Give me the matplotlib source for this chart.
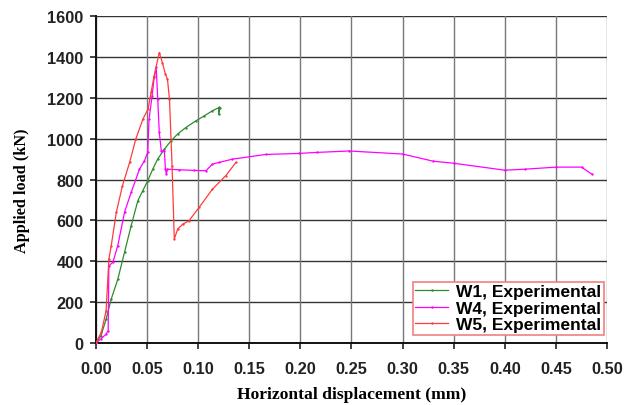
import matplotlib
matplotlib.use("Agg")
import matplotlib.pyplot as plt
from matplotlib.font_manager import FontProperties

# Wall load-displacement curves (horizontal displacement in mm, load in kN)
w1_disp = [0.0, 0.005, 0.010, 0.015, 0.0215, 0.028, 0.0345, 0.041, 0.0458, 0.0507,
           0.0556, 0.0604, 0.067, 0.0735, 0.080, 0.088, 0.098, 0.106, 0.114, 0.1206,
           0.1200, 0.1210]
w1_load = [0, 36, 117, 215, 313, 444, 574, 696, 745, 794,
           851, 900, 949, 990, 1023, 1055, 1088, 1112, 1137, 1153,
           1120, 1150]

w4_disp = [0.0, 0.005, 0.010, 0.0120, 0.0127, 0.0166, 0.0214, 0.028, 0.0345, 0.0426,
           0.0475, 0.0507, 0.052, 0.055, 0.057, 0.059, 0.0605, 0.062, 0.064, 0.067,
           0.068, 0.069, 0.070, 0.0816, 0.0960, 0.1076, 0.114, 0.1206, 0.1335, 0.166,
           0.1985, 0.216, 0.248, 0.300, 0.330, 0.350, 0.400, 0.420, 0.450, 0.475,
           0.485]
w4_load = [0, 20, 44, 60, 378, 395, 476, 640, 737, 851,
           892, 933, 1096, 1210, 1300, 1349, 1194, 1031, 941, 941,
           851, 827, 851, 848, 845, 843, 876, 884, 900, 923,
           928, 933, 940, 925, 890, 880, 846, 851, 861, 861,
           827]

w5_disp = [0.0, 0.0053, 0.010, 0.0127, 0.015, 0.020, 0.026, 0.033, 0.039, 0.046,
           0.051, 0.054, 0.057, 0.062, 0.065, 0.068, 0.070, 0.072, 0.0745, 0.0767,
           0.080, 0.085, 0.091, 0.101, 0.114, 0.127, 0.137]
w5_load = [0, 52, 158, 411, 476, 640, 770, 884, 998, 1096,
           1145, 1227, 1308, 1422, 1373, 1316, 1292, 1194, 868, 509,
           558, 582, 598, 664, 753, 819, 884]

x_ticks = [0.00, 0.05, 0.10, 0.15, 0.20, 0.25, 0.30, 0.35, 0.40, 0.45, 0.50]
y_ticks = [0, 200, 400, 600, 800, 1000, 1200, 1400, 1600]

fig = plt.figure(figsize=(6.35, 4.06), dpi=100)
ax = fig.add_axes([0.151, 0.1527, 0.805, 0.805])

line_kw = dict(lw=0.9, marker=".", ms=1.4)
ax.plot(w1_disp, w1_load, color="#2e8b2e", label="W1, Experimental", zorder=3, **line_kw)
ax.plot(w4_disp, w4_load, color="#ff00ff", label="W4, Experimental", zorder=3, **line_kw)
ax.plot(w5_disp, w5_load, color="#ff3b3b", label="W5, Experimental", zorder=4, **line_kw)

ax.set_xlim(0, 0.5)
ax.set_ylim(0, 1600)
ax.set_xticks(x_ticks)
ax.set_yticks(y_ticks)
ax.set_xticklabels([f"{v:.2f}" for v in x_ticks])

tick_fp = FontProperties(family="Liberation Sans", weight="bold", size=11.8)
for lbl in ax.get_xticklabels() + ax.get_yticklabels():
    lbl.set_fontproperties(tick_fp)
    lbl.set_color("#1a1a1a")

ax.tick_params(direction="out", length=4, width=1.2, colors="#222222", pad=5)
ax.tick_params(axis="x", pad=9)

# Grid: horizontal lines darker than vertical ones
for y in y_ticks:
    ax.axhline(y, color="#333333", lw=1.0, zorder=1)
for x in x_ticks:
    ax.axvline(x, color="#777777", lw=1.0, zorder=1)

for side in ("top", "right"):
    ax.spines[side].set_visible(False)
for side in ("left", "bottom"):
    ax.spines[side].set_linewidth(1.4)
    ax.spines[side].set_color("#111111")

ax.set_xlabel("Horizontal displacement (mm)",
              fontdict=dict(family="Liberation Serif", weight="bold", size=12.6),
              labelpad=7)
ax.set_ylabel("Applied load (kN)",
              fontdict=dict(family="Liberation Serif", weight="bold", size=11.7))
ax.yaxis.set_label_coords(-0.128, 0.47)

leg = ax.legend(loc="lower right", bbox_to_anchor=(0.994, 0.0245),
                prop=dict(family="Liberation Sans", weight="bold", size=12.5),
                frameon=True, fancybox=False, handlelength=1.9, handletextpad=0.45,
                labelspacing=0.08, borderpad=0.15, borderaxespad=0.0)
leg.get_frame().set_edgecolor("#f08080")
leg.get_frame().set_linewidth(1.2)
leg.get_frame().set_alpha(1.0)

fig.savefig("out.png", dpi=100)
